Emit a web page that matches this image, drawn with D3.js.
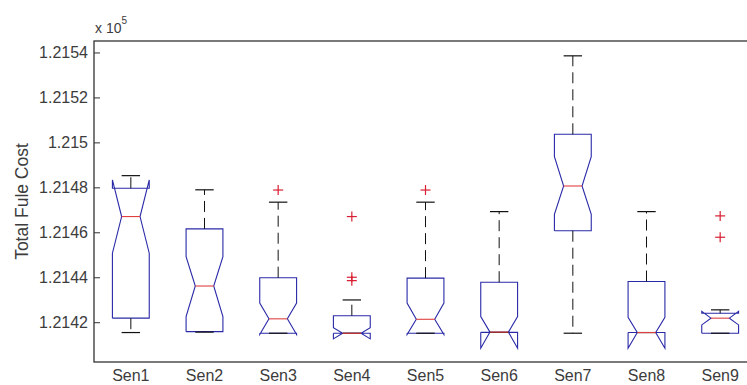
<!DOCTYPE html>
<html>
<head>
<meta charset="utf-8">
<script src="https://cdn.jsdelivr.net/npm/d3@7"></script>
<style>
  html, body { margin: 0; padding: 0; background: #fff; }
  svg { display: block; font-family: "Liberation Sans", Arial, sans-serif; }
</style>
</head>
<body>
<svg id="chart" width="747" height="385"></svg>
<script>
// Sensor groups and their box statistics (total fuel cost)
const categories = ["Sen1", "Sen2", "Sen3", "Sen4", "Sen5", "Sen6", "Sen7", "Sen8", "Sen9"];
const whiskerLow  = [121415.4, 121415.6, 121415.1, 121415.1, 121415.1, 121415.5, 121415.1, 121415.4, 121415.1];
const q1          = [121421.8, 121415.8, 121415.1, 121415.1, 121415.1, 121415.5, 121460.7, 121415.4, 121415.1];
const medians     = [121467.0, 121436.1, 121421.5, 121415.1, 121421.3, 121415.6, 121480.6, 121415.4, 121421.8];
const q3          = [121479.6, 121461.5, 121439.8, 121422.9, 121439.6, 121437.8, 121503.6, 121438.1, 121424.0];
const whiskerHigh = [121485.2, 121478.9, 121473.4, 121429.9, 121473.4, 121469.2, 121538.5, 121469.2, 121425.5];
const notchLow    = [121450.7, 121422.5, 121414.5, 121412.6, 121414.5, 121408.4, 121468.0, 121408.4, 121418.8];
const notchHigh   = [121483.3, 121449.2, 121428.5, 121417.6, 121428.5, 121422.5, 121493.7, 121422.2, 121424.8];
const outliers = [
  [],
  [],
  [121478.8],
  [121467.0, 121440.0, 121438.5],
  [121478.8],
  [],
  [],
  [],
  [121467.3, 121457.8]
];
const yTicks = [121420, 121440, 121460, 121480, 121500, 121520, 121540];
const yLabel = "Total Fule Cost";
const exponent = 5;

const svg = d3.select("#chart");
const plot = { left: 94, right: 757, top: 41, bottom: 362 };

const x = d3.scaleBand().domain(categories).range([plot.left, plot.right]).paddingInner(0).paddingOuter(0);
const y = d3.scaleLinear().domain([121402.3, 121545.1]).range([plot.bottom, plot.top]);

const blue = "#2a2aa8";
const red = "#e04040";
const outRed = "#d81e32";
const ink = "#333";
const textInk = "#3c3c3c";

const boxW = x.bandwidth() * 0.5;
const cx = c => x(c) + x.bandwidth() / 2;

const stats = categories.map((c, i) => ({
  c, lo: whiskerLow[i], q1: q1[i], med: medians[i], q3: q3[i], hi: whiskerHigh[i],
  nlo: notchLow[i], nhi: notchHigh[i], out: outliers[i]
}));

// axes frame
const fmt = d3.format(".4~f");
const yAxis = d3.axisLeft(y).tickValues(yTicks).tickSize(-6).tickPadding(6)
  .tickFormat(v => fmt(v / Math.pow(10, exponent)));
const gy = svg.append("g").attr("transform", `translate(${plot.left},0)`).call(yAxis);
gy.select(".domain").remove();
gy.selectAll(".tick line").attr("stroke", ink);
gy.selectAll(".tick text").attr("fill", textInk).style("font-size", "16px")
  .attr("font-family", "Liberation Sans, Arial, sans-serif");

const yAxisR = d3.axisRight(y).tickValues(yTicks).tickSize(-6).tickFormat("");
const gyr = svg.append("g").attr("transform", `translate(${plot.right},0)`).call(yAxisR);
gyr.select(".domain").remove();
gyr.selectAll(".tick line").attr("stroke", ink);

const xAxis = d3.axisBottom(x).tickSize(0).tickPadding(8);
const gx = svg.append("g").attr("transform", `translate(0,${plot.bottom})`).call(xAxis);
gx.select(".domain").remove();
gx.selectAll(".tick text").attr("fill", textInk).style("font-size", "16px")
  .attr("font-family", "Liberation Sans, Arial, sans-serif");

svg.append("rect")
  .attr("x", plot.left).attr("y", plot.top)
  .attr("width", plot.right - plot.left).attr("height", plot.bottom - plot.top)
  .attr("fill", "none").attr("stroke", ink).attr("stroke-width", 1.3);

// exponent label
const ex = svg.append("text").attr("x", plot.left + 1).attr("y", 33)
  .attr("fill", textInk).style("font-size", "14px");
ex.append("tspan").text("x 10");
ex.append("tspan").attr("dy", -9).style("font-size", "10px").text(exponent);

// y label
svg.append("text")
  .attr("transform", `translate(28,${(plot.top + plot.bottom) / 2}) rotate(-90)`)
  .attr("text-anchor", "middle").attr("fill", textInk).style("font-size", "17.5px")
  .text(yLabel);

const g = svg.append("g");

// notched boxes
g.selectAll("path.box").data(stats).join("path")
  .attr("class", "box")
  .attr("fill", "none").attr("stroke", blue).attr("stroke-width", 1.1)
  .attr("d", d => {
    const l = cx(d.c) - boxW / 2, r = cx(d.c) + boxW / 2;
    const nl = cx(d.c) - boxW / 4, nr = cx(d.c) + boxW / 4;
    const pts = [
      [l, d.q1], [l, d.nlo], [nl, d.med], [l, d.nhi], [l, d.q3],
      [r, d.q3], [r, d.nhi], [nr, d.med], [r, d.nlo], [r, d.q1], [l, d.q1]
    ];
    return d3.line().x(p => p[0]).y(p => y(p[1]))(pts);
  });

// whiskers
g.selectAll("line.wup").data(stats.filter(d => d.hi > d.q3)).join("line")
  .attr("x1", d => cx(d.c)).attr("x2", d => cx(d.c))
  .attr("y1", d => y(d.q3)).attr("y2", d => y(d.hi))
  .attr("stroke", "#111").attr("stroke-dasharray", "11,6");
g.selectAll("line.wlo").data(stats.filter(d => d.lo < d.q1)).join("line")
  .attr("x1", d => cx(d.c)).attr("x2", d => cx(d.c))
  .attr("y1", d => y(d.q1)).attr("y2", d => y(d.lo))
  .attr("stroke", "#111").attr("stroke-dasharray", "11,6");

// whisker caps
["hi", "lo"].forEach(k => {
  g.selectAll("line.cap-" + k).data(stats).join("line")
    .attr("x1", d => cx(d.c) - boxW / 4).attr("x2", d => cx(d.c) + boxW / 4)
    .attr("y1", d => y(d[k])).attr("y2", d => y(d[k]))
    .attr("stroke", "#111").attr("stroke-width", 1.2);
});

// medians
g.selectAll("line.med").data(stats).join("line")
  .attr("x1", d => cx(d.c) - boxW / 4).attr("x2", d => cx(d.c) + boxW / 4)
  .attr("y1", d => y(d.med)).attr("y2", d => y(d.med))
  .attr("stroke", red).attr("stroke-width", 1.1);

// outliers
const outPts = stats.flatMap(d => d.out.map(v => ({ c: d.c, v })));
const plus = g.selectAll("g.out").data(outPts).join("g")
  .attr("transform", d => `translate(${cx(d.c)},${y(d.v)})`);
plus.append("line").attr("x1", -5).attr("x2", 5).attr("stroke", outRed).attr("stroke-width", 1.2);
plus.append("line").attr("y1", -5).attr("y2", 5).attr("stroke", outRed).attr("stroke-width", 1.2);
</script>
</body>
</html>
